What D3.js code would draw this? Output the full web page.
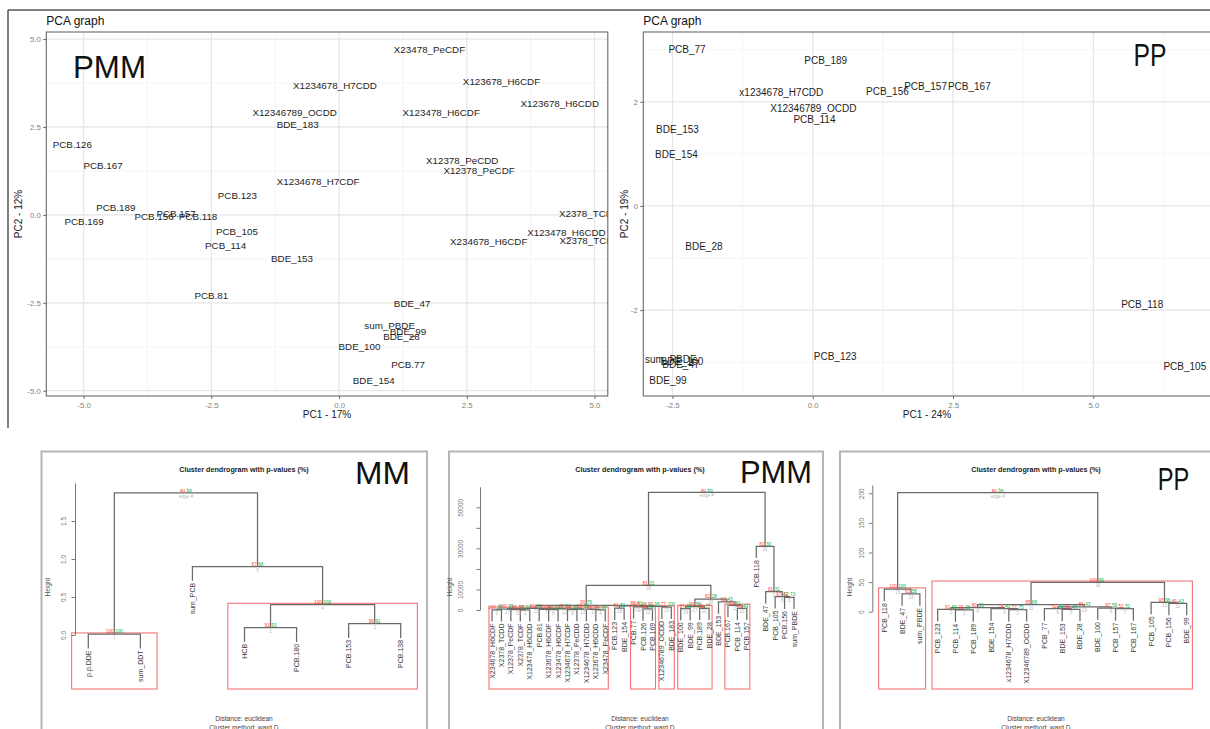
<!DOCTYPE html>
<html><head><meta charset="utf-8">
<script src="https://cdn.jsdelivr.net/npm/d3@7"></script>
<style>body{margin:0;background:#fff}svg{display:block}text{font-family:"Liberation Sans",Arial,sans-serif}</style>
</head><body><svg id="c" width="1210" height="729"></svg>
<script>
// ---------------- DATA ----------------
// PCA (PMM)
const pmmLabels = ["X23478_PeCDF","X123678_H6CDF","X1234678_H7CDD","X123678_H6CDD","X12346789_OCDD","X123478_H6CDF","BDE_183","PCB.126","PCB.167","X12378_PeCDD","X12378_PeCDF","X1234678_H7CDF","PCB.123","PCB.189","PCB.169","PCB.156","PCB.157","PCB.118","PCB_105","PCB_114","BDE_153","PCB.81","X2378_TCDD","X123478_H6CDD","X2378_TCDF","X234678_H6CDF","BDE_47","sum_PBDE","BDE_99","BDE_28","BDE_100","PCB.77","BDE_154"];
const pmmPC1 = [1.77,3.18,-0.08,4.32,-0.87,2.00,-0.81,-5.22,-4.62,2.41,2.74,-0.41,-1.99,-4.37,-4.99,-3.62,-3.19,-2.76,-2.00,-2.22,-0.92,-2.50,4.90,4.45,4.90,2.93,1.43,0.99,1.35,1.22,0.40,1.35,0.68];
const pmmPC2 = [4.70,3.79,3.67,3.17,2.90,2.90,2.56,2.01,1.41,1.56,1.26,0.95,0.54,0.22,-0.19,-0.05,0.04,-0.05,-0.46,-0.86,-1.23,-2.28,0.03,-0.50,-0.72,-0.77,-2.53,-3.15,-3.31,-3.45,-3.74,-4.26,-4.72];
const pmmXTicks = [-5,-2.5,0,2.5,5], pmmYTicks = [-5,-2.5,0,2.5,5];
const pmmXMinor = [-3.75,-1.25,1.25,3.75], pmmYMinor = [-3.75,-1.25,1.25,3.75];

// PCA (PP)
const ppLabels = ["PCB_77","PCB_189","x1234678_H7CDD","PCB_156","PCB_157","PCB_167","X12346789_OCDD","PCB_114","BDE_153","BDE_154","BDE_28","PCB_118","PCB_123","PCB_105","sum_PBDE","BDE_100","BDE_47","BDE_99"];
const ppPC1 = [-2.24,0.23,-0.56,1.33,2.01,2.79,0.01,0.03,-2.41,-2.43,-1.94,5.87,0.40,6.63,-2.53,-2.33,-2.35,-2.58];
const ppPC2 = [3.01,2.80,2.18,2.19,2.29,2.29,1.87,1.66,1.46,0.98,-0.77,-1.89,-2.90,-3.08,-2.94,-2.99,-3.04,-3.35];
const ppXTicks = [-2.5,0,2.5,5], ppYTicks = [-2,0,2];
const ppXMinor = [-1.25,1.25,3.75,6.25], ppYMinor = [-3,-1,1,3];

// Dendrogram MM   node = [height, au, bp, edge, left, right]
const mmLeaves = ["p.p.DDE","sum_DDT","sum_PCB","HCB","PCB.180","PCB.153","PCB.138"];
const mmTree = [1.87,"au","bp","edge #",
  [0.01,100,100,1,0,1],
  [0.90,67,68,5,2,[0.40,100,100,4,[0.096,93,93,2,3,4],[0.149,96,91,3,5,6]]]];
const mmRects = [[0,1,0.01],[3,6,0.40]];
const mmTicks = [0,0.5,1,1.5], mmTickLabels = ["0.0","0.5","1.0","1.5"];

// Dendrogram PMM
const pmmLeaves = ["X234678_H6CDF","X2378_TCDD","X12378_PeCDF","X2378_TCDF","X123478_H6CDD","PCB.81","X123678_H6CDF","X123478_H6CDF","X1234678_H7CDF","X12378_PeCDD","X1234678_H7CDD","X123678_H6CDD","X23478_PeCDF","PCB.123","BDE_154","PCB.77","PCB.126","PCB.169","X12346789_OCDD","BDE_183","BDE_100","BDE_99","PCB.189","BDE_28","BDE_153","PCB.167","PCB_114","PCB.157","PCB.118","BDE_47","PCB_105","PCB.156","sum_PBDE"];
const pmmTree = [57300,"au","bp","edge #",
  [12000,81,31,30,
    [2300,90,76,26,
      [800,96,94,23,
        [400,100,99,17,[100,100,95,3,0,1],[200,96,96,10,2,[80,97,97,1,3,4]]],
        [600,77,90,22,[300,77,90,7,5,[150,90,100,6,6,7]],[400,99,98,13,[200,96,96,9,8,9],[250,96,94,14,10,[100,97,99,4,11,12]]]]],
      [2000,81,91,25,[900,81,91,18,13,14],[1800,99,98,24,[1500,100,76,16,15,[500,96,90,12,16,17]],[1400,77,100,15,18,19]]]],
    [5300,82,28,28,
      [1600,99,88,27,[700,97,99,19,20,21],[800,85,77,20,22,23]],
      [3900,62,43,29,24,[2200,92,61,11,25,[800,48,49,21,26,27]]]]],
  [31000,82,30,31,28,[8900,81,31,2,29,[6500,67,42,8,30,[6200,32,73,5,31,32]]]]];
const pmmRects = [[0,12,800],[15,17,1500],[18,19,1400],[20,23,1600],[25,27,2200]];
const pmmTicks = [0,10000,20000,30000,40000,50000], pmmTickLabels = ["0","10000","","30000","","50000"];

// Dendrogram PP
const ppLeaves = ["PCB_118","BDE_47","sum_PBDE","PCB_123","PCB_114","PCB_189","BDE_154","x1234678_H7CDD","X12346789_OCDD","PCB_77","BDE_153","BDE_28","BDE_100","PCB_157","PCB_167","PCB_105","PCB_156","BDE_99"];
const ppTree = [201,"au","bp","edge #",
  [38,100,100,15,0,[30,63,58,14,1,2]],
  [49.6,100,99,16,
    [12,95,89,11,
      [7,80,33,8,[4,91,60,3,3,[3,93,38,1,4,5]],[5,74,41,4,6,[3.5,77,75,2,7,8]]],
      [8,86,43,10,[5,52,49,6,9,[4,56,47,5,10,11]],[6,87,59,9,12,[5,52,52,7,13,14]]]],
    [15.8,93,96,13,15,[14,81,43,12,16,17]]]];
const ppRects = [[0,2,38],[3,17,49.6]];
const ppDTicks = [0,50,100,150,200], ppDTickLabels = ["0","50","100","150","200"];

// ---------------- DRAWING ----------------
const svg = d3.select("#c");
const BIG = 'Lato, "Open Sans", sans-serif';

function bigLabel(txt, x, y, w){
  svg.append("text").attr("x",x).attr("y",y).attr("font-family",BIG).attr("font-size",30.5)
    .attr("fill","#111").attr("textLength",w).attr("lengthAdjust","spacingAndGlyphs").text(txt);
}

// frame of top screenshot
svg.append("line").attr("x1",8).attr("x2",1210).attr("y1",10).attr("y2",10).attr("stroke","#555").attr("stroke-width",1.5);
svg.append("line").attr("x1",8).attr("x2",8).attr("y1",10).attr("y2",428).attr("stroke","#555").attr("stroke-width",1.5);

function drawPCA(c){
  const x = d3.scaleLinear().domain(c.xDom).range([c.l,c.r]);
  const y = d3.scaleLinear().domain(c.yDom).range([c.b,c.t]);
  svg.append("clipPath").attr("id",c.id).append("rect")
    .attr("x",c.l).attr("y",c.t).attr("width",c.r-c.l).attr("height",c.b-c.t);
  const g = svg.append("g");
  const grid = g.append("g").attr("clip-path",`url(#${c.id})`);
  grid.selectAll(".mx").data(c.xMinor).join("line").attr("x1",d=>x(d)).attr("x2",d=>x(d)).attr("y1",c.t).attr("y2",c.b).attr("stroke","#f1f1f1").attr("stroke-width",0.7);
  grid.selectAll(".my").data(c.yMinor).join("line").attr("y1",d=>y(d)).attr("y2",d=>y(d)).attr("x1",c.l).attr("x2",c.r).attr("stroke","#f1f1f1").attr("stroke-width",0.7);
  grid.selectAll(".Mx").data(c.xTicks).join("line").attr("x1",d=>x(d)).attr("x2",d=>x(d)).attr("y1",c.t).attr("y2",c.b).attr("stroke","#e6e6e6").attr("stroke-width",1.2);
  grid.selectAll(".My").data(c.yTicks).join("line").attr("y1",d=>y(d)).attr("y2",d=>y(d)).attr("x1",c.l).attr("x2",c.r).attr("stroke","#e6e6e6").attr("stroke-width",1.2);
  g.append("g").attr("clip-path",`url(#${c.id})`).selectAll("text").data(c.labels).join("text")
    .attr("x",(d,i)=>x(c.pc1[i])).attr("y",(d,i)=>y(c.pc2[i]))
    .attr("text-anchor","middle").attr("dominant-baseline","central")
    .attr("font-size",c.fs).attr("fill","#1e1e1e").text(d=>d);
  g.append("rect").attr("x",c.l).attr("y",c.t).attr("width",c.r-c.l).attr("height",c.b-c.t)
    .attr("fill","none").attr("stroke","#6a6a6a").attr("stroke-width",1.1);
  const ax = g.append("g").attr("transform",`translate(0,${c.b})`)
    .call(d3.axisBottom(x).tickValues(c.xTicks).tickFormat(c.xFmt).tickSize(3).tickSizeOuter(0).tickPadding(3));
  const ay = g.append("g").attr("transform",`translate(${c.l},0)`)
    .call(d3.axisLeft(y).tickValues(c.yTicks).tickFormat(c.yFmt).tickSize(3).tickSizeOuter(0).tickPadding(2.5));
  [ax,ay].forEach(a=>{
    a.select(".domain").remove();
    a.selectAll("line").attr("stroke","#666");
    a.selectAll("text").attr("fill","#808080").attr("font-size",7.8).attr("font-family",'"Liberation Sans",Arial,sans-serif');
  });
  g.append("text").attr("x",c.titleX).attr("y",21).attr("dominant-baseline","central").attr("font-size",12).attr("fill","#111").text("PCA graph");
  g.append("text").attr("x",(c.xtX)).attr("y",414).attr("text-anchor","middle").attr("dominant-baseline","central").attr("font-size",10).attr("fill","#222").text(c.xTitle);
  g.append("text").attr("transform",`translate(${c.ytX},214) rotate(-90)`).attr("text-anchor","middle").attr("dominant-baseline","central").attr("font-size",10).attr("fill","#222").text(c.yTitle);
}

drawPCA({id:"cp1",labels:pmmLabels,pc1:pmmPC1,pc2:pmmPC2,l:46.3,r:607.8,t:32,b:396,
  xDom:[-5.73,5.26],yDom:[-5.15,5.2],xTicks:pmmXTicks,yTicks:pmmYTicks,xMinor:pmmXMinor,yMinor:pmmYMinor,
  xFmt:d=>d.toFixed(1),yFmt:d=>d.toFixed(1),fs:9.8,titleX:46.3,xTitle:"PC1 - 17%",yTitle:"PC2 - 12%",xtX:327,ytX:18});
drawPCA({id:"cp2",labels:ppLabels,pc1:ppPC1,pc2:ppPC2,l:643.3,r:1214,t:32,b:396,
  xDom:[-3.02,7.15],yDom:[-3.65,3.34],xTicks:ppXTicks,yTicks:ppYTicks,xMinor:ppXMinor,yMinor:ppYMinor,
  xFmt:d=>d.toFixed(1),yFmt:d=>String(d),fs:10,titleX:643.3,xTitle:"PC1 - 24%",yTitle:"PC2 - 19%",xtX:927,ytX:624});
bigLabel("PMM",73,78,73);
bigLabel("PP",1133.5,66,33);

// bottom boxes
[[41.5,427],[449,823],[840,1240]].forEach(([a,b])=>{
  svg.append("rect").attr("x",a).attr("y",451.5).attr("width",b-a).attr("height",300)
    .attr("fill","none").attr("stroke","#b5b5b5").attr("stroke-width",2);
});

function drawDendro(c){
  const g = svg.append("g");
  const xs = d3.scalePoint().domain(c.leaves).range(c.xr);
  const ys = d3.scaleLinear().domain(c.yDom).range(c.yr);
  function build(n){
    if (typeof n === "number") return {leaf:true,name:c.leaves[n],x:xs(c.leaves[n])};
    const kids=[build(n[4]),build(n[5])];
    return {h:n[0],au:n[1],bp:n[2],e:n[3],kids,x:(kids[0].x+kids[1].x)/2};
  }
  const root = build(c.tree);
  const hang = 0.1*root.h;
  const nodes=[]; (function walk(n){ if(!n.leaf){nodes.push(n); n.kids.forEach(walk);} })(root);
  const spacing = xs.step();
  g.selectAll(".rc").data(c.rects).join("rect")
    .attr("x",d=>xs(c.leaves[d[0]])-0.32*spacing)
    .attr("width",d=>xs(c.leaves[d[1]])-xs(c.leaves[d[0]])+0.64*spacing)
    .attr("y",d=>ys(d[2])-1.3).attr("height",d=>689-ys(d[2])+1.3)
    .attr("fill","none").attr("stroke","#f47575").attr("stroke-width",1.1);
  const lines = g.append("g").attr("stroke","#6a6a6a").attr("fill","none").attr("stroke-width",1.25);
  const lab = g.append("g");
  nodes.forEach(n=>{
    const yN = ys(n.h);
    const [a,b] = n.kids;
    const ya = a.leaf ? ys(n.h-hang) : ys(a.h);
    const yb = b.leaf ? ys(n.h-hang) : ys(b.h);
    lines.append("path").attr("d",`M${a.x},${ya}V${yN}H${b.x}V${yb}`);
    [[a,ya],[b,yb]].forEach(([k,yy])=>{
      if(k.leaf) lab.append("text").attr("transform",`translate(${k.x},${yy+2}) rotate(-90)`)
        .attr("text-anchor","end").attr("dominant-baseline","central").attr("font-size",7).attr("fill","#3a3a3a").text(k.name);
    });
  });
  const vl = g.append("g").attr("font-size",4.6);
  nodes.forEach(n=>{
    const yN = ys(n.h);
    vl.append("text").attr("x",n.x-0.8).attr("y",yN-0.8).attr("text-anchor","end").attr("fill","#ff3b3b").text(n.au);
    vl.append("text").attr("x",n.x+0.8).attr("y",yN-0.8).attr("text-anchor","start").attr("fill","#00b140").text(n.bp);
    vl.append("text").attr("x",n.x).attr("y",yN+5).attr("text-anchor","middle").attr("fill","#b8b8b8").text(n.e);
  });
  const ax = g.append("g").attr("transform",`translate(${c.axX},0)`)
    .call(d3.axisLeft(ys).tickValues(c.ticks).tickSize(3.5).tickSizeOuter(0).tickFormat((d,i)=>c.tickLabels[i]));
  ax.select(".domain").attr("stroke","#777");
  ax.selectAll("line").attr("stroke","#777");
  ax.selectAll("text").attr("x",0).attr("dy",null)
    .attr("transform",`translate(${c.labX-c.axX},0) rotate(-90)`)
    .attr("text-anchor","middle").attr("dominant-baseline","central")
    .attr("fill","#777").attr("font-size",6.5).attr("font-family",'"Liberation Sans",Arial,sans-serif');
  g.append("text").attr("transform",`translate(${c.hX},587) rotate(-90)`).attr("text-anchor","middle").attr("dominant-baseline","central")
    .attr("font-size",6.5).attr("fill","#555").text("Height");
  g.append("text").attr("x",c.titleX).attr("y",469.5).attr("text-anchor","middle").attr("dominant-baseline","central")
    .attr("font-size",7.2).attr("font-weight","bold").attr("fill","#222").text("Cluster dendrogram with p-values (%)");
  g.append("text").attr("x",c.titleX).attr("y",718.5).attr("text-anchor","middle").attr("dominant-baseline","central")
    .attr("font-size",6.6).attr("fill","#4a4040").text("Distance:  euclidean");
  g.append("text").attr("x",c.titleX).attr("y",727).attr("text-anchor","middle").attr("dominant-baseline","central")
    .attr("font-size",6.6).attr("fill","#4a4040").text("Cluster method: ward.D");
}

drawDendro({leaves:mmLeaves,tree:mmTree,rects:mmRects,xr:[88.3,400.7],yDom:[0,2],yr:[635,483],
  axX:75,labX:63.5,hX:47,ticks:mmTicks,tickLabels:mmTickLabels,titleX:244});
drawDendro({leaves:pmmLeaves,tree:pmmTree,rects:pmmRects,xr:[492,794],yDom:[0,60000],yr:[610,486.8],
  axX:480,labX:460,hX:449.5,ticks:pmmTicks,tickLabels:pmmTickLabels,titleX:640});
drawDendro({leaves:ppLeaves,tree:ppTree,rects:ppRects,xr:[884.3,1186.7],yDom:[0,214],yr:[611.7,485],
  axX:872.3,labX:861,hX:849,ticks:ppDTicks,tickLabels:ppDTickLabels,titleX:1036});
bigLabel("MM",355,483.5,55);
bigLabel("PMM",740,482.5,72);
bigLabel("PP",1157.7,490,31.5);
</script></body></html>
